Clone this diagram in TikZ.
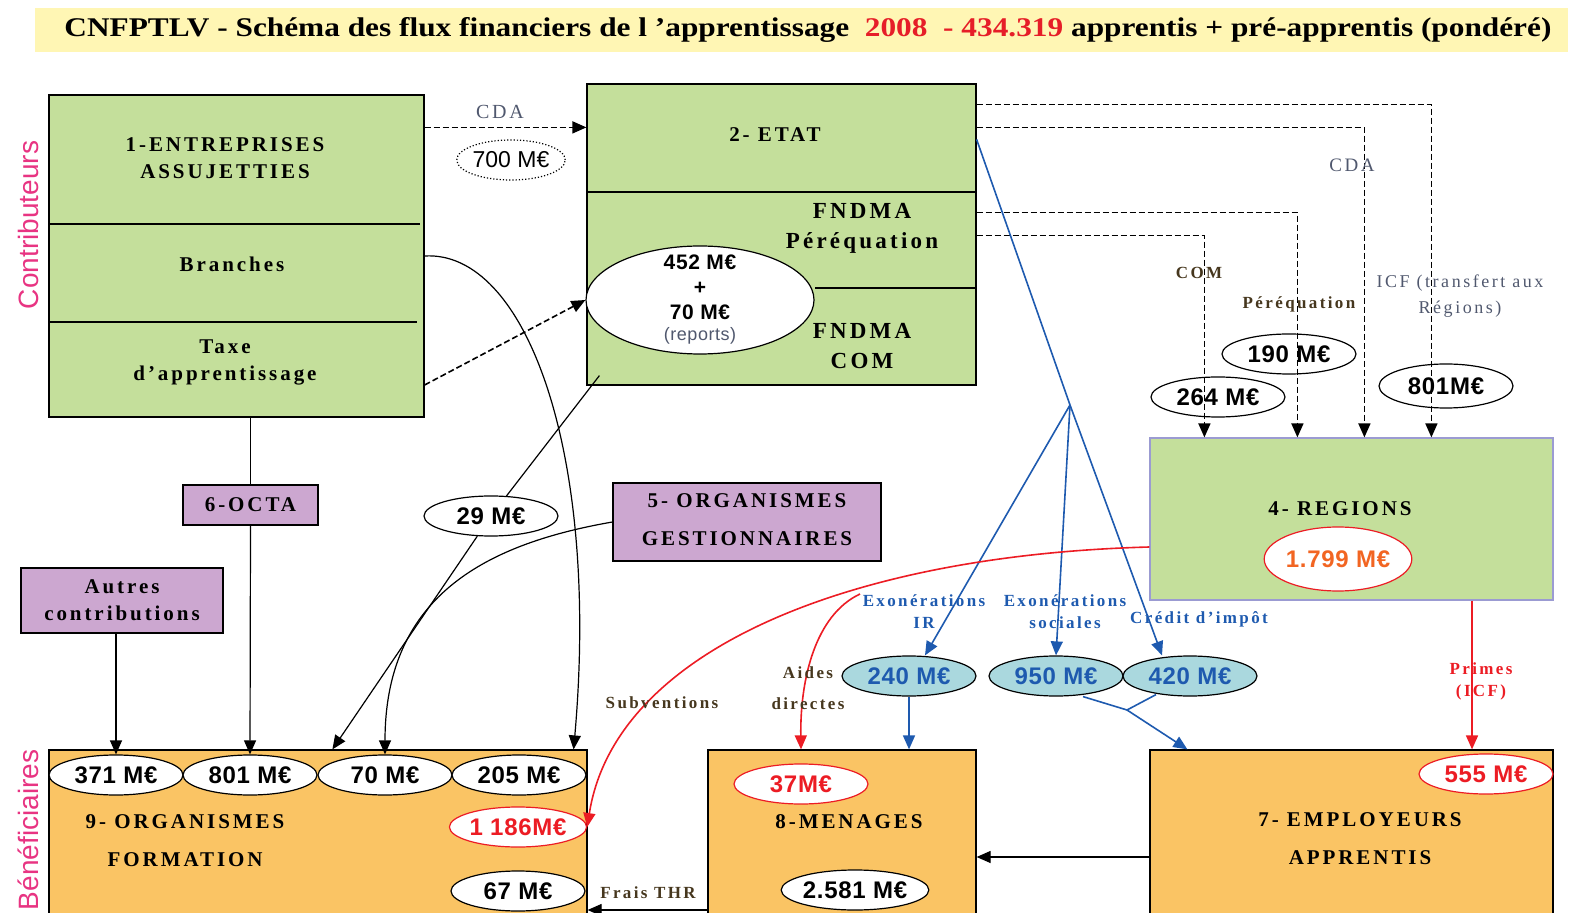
\documentclass[tikz,border=0pt]{standalone}
\usepackage{fontspec}
\setmainfont{Liberation Serif}
\newfontfamily\lblfont[LetterSpace=14]{Liberation Serif}
\newfontfamily\numfont[LetterSpace=3]{Liberation Sans}
\newfontfamily\sidefont{Liberation Sans}
\usepackage{tikz}
\usetikzlibrary{calc,positioning,arrows.meta,shapes.geometric}
\usepackage{xcolor}
\definecolor{titlebg}{RGB}{255,246,180}
\definecolor{titlered}{RGB}{230,30,40}
\definecolor{boxgreen}{RGB}{196,223,155}
\definecolor{boxpurple}{RGB}{204,167,208}
\definecolor{boxorange}{RGB}{250,196,100}
\definecolor{valblue}{RGB}{170,216,222}
\definecolor{lineblue}{RGB}{30,90,175}
\definecolor{linered}{RGB}{236,28,36}
\definecolor{regionline}{RGB}{155,155,210}
\definecolor{sidepink}{RGB}{232,52,130}
\definecolor{labgray}{RGB}{80,88,110}
\definecolor{labbrown}{RGB}{70,55,30}
\definecolor{numorange}{RGB}{242,101,34}

\tikzset{
  box/.style={draw, fill=boxgreen, inner sep=0pt},
  pbox/.style={draw, fill=boxpurple, inner sep=0pt},
  obox/.style={draw, fill=boxorange, inner sep=0pt},
  lbl/.style={font=\lblfont\bfseries\fontsize{10.5}{13.5}\selectfont, align=center},
  lblwide/.style={font=\lblfont\bfseries\fontsize{10.5}{19}\selectfont, align=center},
  small/.style={font=\lblfont\bfseries\fontsize{8.5}{11}\selectfont, align=center},
  val/.style={draw, ellipse, fill=white, inner sep=0pt, minimum width=67pt,
    minimum height=20pt, font=\numfont\bfseries\fontsize{12}{14}\selectfont},
  redval/.style={val, draw=linered, text=linered},
  blueval/.style={val, fill=valblue, text=lineblue},
  tip/.style={-{Triangle[length=7pt,width=6pt]}},
  dashln/.style={dashed, dash pattern=on 3pt off 1.5pt, thick},
  blueln/.style={lineblue, thick, -{Triangle[length=7pt,width=6pt]}},
  redln/.style={linered, thick, -{Triangle[length=7pt,width=6pt]}}
}

\begin{document}
\begin{tikzpicture}[x=0.5pt, y=-0.5pt, semithick]
  \clip (0,0) rectangle (1572,913);

  % title band
  \fill[titlebg] (35,8) rectangle (1568,52);
  \node[font=\bfseries\fontsize{13.5}{15}\selectfont] (title) at (808,30)
    {\scalebox{1.16}[1]{CNFPTLV - Schéma des flux financiers de l ’apprentissage \ \textcolor{titlered}{2008 \ - 434.319} apprentis + pré-apprentis (pondéré)}};

  % side labels
  \node[rotate=90, text=sidepink, font=\sidefont\fontsize{14}{16}\selectfont] (contrib) at (28,225) {Contributeurs};
  \node[rotate=90, text=sidepink, font=\sidefont\fontsize{14}{16}\selectfont] (benef) at (28,830) {Bénéficiaires};

  % contributeurs
  \node[box, minimum width=187.5pt, minimum height=161pt] (entr) at (236.5,256) {};
  \draw (49,224) -- (420,224);
  \draw (49,322) -- (417,322);
  \node[lbl] (entrlbl) at (225,158) {1-ENTREPRISES\\ASSUJETTIES};
  \node[lbl] (branches) at (232,264) {Branches};
  \node[lbl] (taxe) at (225,362) {Taxe\\d’apprentissage};

  \node[box, minimum width=194.5pt, minimum height=150.5pt] (etat) at (781.5,234.5) {};
  \draw (587,192) -- (976,192);
  \draw (815,288) -- (976,288);
  \node[lbl] (etatlbl) at (775,135) {2- ETAT};
  \node[lbl, font=\lblfont\bfseries\fontsize{11.5}{15}\selectfont] (pereq) at (862,228) {FNDMA\\Péréquation};
  \node[lbl, font=\lblfont\bfseries\fontsize{11.5}{15}\selectfont] (fncom) at (862,346) {FNDMA\\COM};
  \node[draw, ellipse, fill=white, inner sep=0pt, minimum width=114pt, minimum height=54pt] (reports) at (700,300) {};
  \node[align=center, font=\numfont\bfseries\fontsize{10.5}{12.5}\selectfont] (reportslbl) at (700,300)
    {452 M€\\+\\70 M€\\[-2pt]{\mdseries\color{labgray}\fontsize{9}{10}\selectfont(reports)}};

  \node[box, draw=regionline, minimum width=201.5pt, minimum height=81pt] (regions) at (1351.5,519) {};
  \node[lbl] (regionslbl) at (1340,509) {4- REGIONS};

  \node[pbox, minimum width=134pt, minimum height=39pt] (gest) at (747,522) {};
  \node[lblwide] (gestlbl) at (747,520) {5- ORGANISMES\\GESTIONNAIRES};
  \node[pbox, minimum width=67.5pt, minimum height=20pt, lbl] (octa) at (250.5,505) {6-OCTA};
  \node[pbox, minimum width=101pt, minimum height=32.5pt, lbl] (autres) at (122,600.5) {Autres\\contributions};

  % beneficiaires
  \node[obox, minimum width=269pt, minimum height=90pt] (formation) at (318,840) {};
  \node[lblwide, align=left] (formlbl) at (185,841) {9- ORGANISMES\\\hspace*{11pt}FORMATION};
  \node[obox, minimum width=134pt, minimum height=90pt] (menages) at (842,840) {};
  \node[lbl] (menlbl) at (849,822) {8-MENAGES};
  \node[obox, minimum width=201.5pt, minimum height=90pt] (employeurs) at (1351.5,840) {};
  \node[lblwide] (emplbl) at (1360,839) {7- EMPLOYEURS\\APPRENTIS};

  % montants
  \node[val] (v371) at (116,775) {371 M€};
  \node[val] (v801) at (250,775) {801 M€};
  \node[val] (v70) at (385,775) {70 M€};
  \node[val] (v205) at (519,775) {205 M€};
  \node[redval] (v1186) at (518,827) {1 186M€};
  \node[val] (v67) at (518,891) {67 M€};
  \node[redval] (v37) at (801,784) {37M€};
  \node[val] (v2581) at (855,890) {2.581 M€};
  \node[redval] (v555) at (1486,774) {555 M€};
  \node[val] (v29) at (491,516) {29 M€};
  \node[redval, text=numorange, minimum height=32pt] (v1799) at (1338,559) {1.799 M€};
  \node[draw, densely dotted, ellipse, inner sep=0pt, minimum width=47pt, minimum height=20pt,
    font=\sidefont\fontsize{11.5}{13}\selectfont] (v700) at (511,160) {700 M€};
  \node[blueval] (v240) at (909,676) {240 M€};
  \node[blueval] (v950) at (1056,676) {950 M€};
  \node[blueval] (v420) at (1190,676) {420 M€};

  % flux entreprises -> etat
  \draw[dashln, tip] ([yshift=-16.5pt]entr.north east) -- ([yshift=-22pt]etat.north west);
  \draw[dashln, tip] ([yshift=-64.5pt]entr.east) -- (reports.west);
  \node[font=\lblfont\fontsize{10}{12}\selectfont, text=labgray] (cda1) at (500,112) {CDA};

  % flux vers organismes formation
  \draw[tip] ([yshift=0pt]entr.east) .. controls (525,250) and (600,450) .. ($(formation.north east)+(-14,0)$);
  \draw ([shift={(6.5pt,5pt)}]etat.south west) -- (v29);
  \draw[tip] (v29) -- ($(formation.north west)+(284,0)$);
  \draw[tip] (gest.west) .. controls (480,545) and (385,600) .. (v70.north);
  \draw (octa.north |- entr.south) -- (octa.north);
  \draw[tip] (octa.south) -- (v801.north);
  \draw[tip] (v371.north |- autres.south) -- (v371.north);

  % flux etat -> regions
  \draw[dashln, tip] ([yshift=-10.5pt]etat.north east) -| ($(regions.north west)+(282,0)$);
  \draw[dashln, tip] ([yshift=-22pt]etat.north east) -| ($(regions.north west)+(215,0)$);
  \draw[dashln, tip] ([yshift=-64.5pt]etat.north east) -| ($(regions.north west)+(148,0)$);
  \draw[dashln, tip] ([yshift=-76pt]etat.north east) -| ($(regions.north west)+(55,0)$);
  \node[font=\lblfont\fontsize{9.5}{11}\selectfont, text=labgray] (cda2) at (1352,165) {CDA};
  \node[small, text=labbrown] (comlbl) at (1199,273) {COM};
  \node[small, text=labbrown] (pereqlbl) at (1299,304) {Péréquation};
  \node[font=\lblfont\fontsize{9}{13}\selectfont, text=labgray, align=center] (icflbl) at (1460,296) {ICF (transfert aux\\Régions)};
  \node[val, fill=none] (v264) at (1218,397) {264 M€};
  \node[val, fill=none] (v190) at (1289,354) {190 M€};
  \node[val, fill=none, minimum height=22pt] (v801r) at (1446,386) {801M€};

  % flux etat -> menages / employeurs
  \coordinate (hub) at (1070,405);
  \draw[lineblue, thick] ([yshift=-28pt]etat.north east) -- (hub);
  \draw[blueln] (hub) -- ([xshift=8pt]v240.north);
  \draw[blueln] (hub) -- (v950.north);
  \draw[blueln] (hub) -- ([xshift=-14pt]v420.north);
  \node[small, text=lineblue] (exoir) at (924,612) {Exonérations\\IR};
  \node[small, text=lineblue] (exosoc) at (1065,612) {Exonérations\\sociales};
  \node[small, text=lineblue] (credit) at (1199,619) {Crédit d’impôt};
  \draw[blueln] (v240.south) -- (v240.south |- menages.north);
  \coordinate (merge) at (1127,710);
  \draw[lineblue, thick] ([xshift=13.5pt]v950.south) -- (merge);
  \draw[lineblue, thick] ([xshift=-17pt,yshift=1pt]v420.south) -- (merge);
  \draw[blueln] (merge) -- ($(employeurs.north west)+(38,0)$);

  % flux regions
  \coordinate (aidesfork) at (860,594);
  \draw[redln] ([yshift=-14pt]regions.west) .. controls (850,555) and (615,650) .. (v1186.east);
  \draw[redln] (aidesfork) .. controls (815,615) and (800,680) .. (v37.north |- menages.north);
  \draw[redln] ([xshift=60.25pt]regions.south) -- ([xshift=60.25pt]regions.south |- employeurs.north);
  \node[small, text=linered] (primes) at (1481,681) {Primes\\(ICF)};
  \node[small, text=labbrown] (subv) at (662,703) {Subventions};
  \node[small, text=labbrown, font=\lblfont\bfseries\fontsize{8.5}{15.5}\selectfont] (aides) at (808,688) {Aides\\directes};

  % employeurs -> menages -> formation
  \draw[tip] ([yshift=-8.5pt]employeurs.west) -- ([yshift=-8.5pt]employeurs.west -| menages.east);
  \draw[tip] ([yshift=-35pt]menages.west) -- ([yshift=-35pt]formation.east);
  \node[small, text=labbrown] (frais) at (648,893) {Frais THR};
\end{tikzpicture}
\end{document}
